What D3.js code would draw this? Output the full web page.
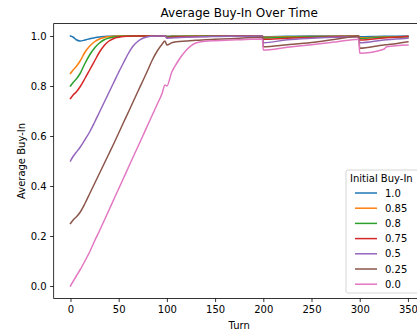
<!DOCTYPE html>
<html>
<head>
<meta charset="utf-8">
<script src="https://cdn.jsdelivr.net/npm/d3@7"></script>
<style>
  html, body { margin: 0; padding: 0; background: #fff; }
  svg { display: block; font-family: "DejaVu Sans", sans-serif; }
</style>
</head>
<body>
<div id="chart"></div>
<script>
// Data
const turns = [0, 3, 6, 10, 15, 20, 25, 30, 35, 40, 45, 50, 55, 60, 65, 70, 75, 80, 85, 90, 95, 98,
  100, 105, 110, 120, 130, 140, 150, 175, 199, 200, 225, 250, 275, 299, 300, 325, 328, 350];

const labels = ['1.0', '0.85', '0.8', '0.75', '0.5', '0.25', '0.0'];
const colors = ['#1f77b4', '#ff7f0e', '#2ca02c', '#d62728', '#9467bd', '#8c564b', '#e377c2'];

const buyIn100 = [1.0, 0.995, 0.985, 0.98, 0.984, 0.989, 0.993, 0.996, 0.998, 0.999, 1.0, 1.0, 1.0, 1.0, 1.0, 1.0, 1.0, 1.0, 1.0, 1.0, 1.0, 1.0,
  0.999, 1.0, 1.0, 1.0, 1.0, 1.0, 1.0, 1.0, 1.0, 0.997, 0.999, 1.0, 1.0, 1.0, 0.997, 0.999, 0.999, 1.0];
const buyIn085 = [0.85, 0.865, 0.878, 0.9, 0.935, 0.96, 0.977, 0.988, 0.994, 0.997, 0.999, 1.0, 1.0, 1.0, 1.0, 1.0, 1.0, 1.0, 1.0, 1.0, 1.0, 1.0,
  0.998, 0.999, 0.999, 1.0, 1.0, 1.0, 1.0, 1.0, 1.0, 0.995, 0.997, 0.998, 0.999, 1.0, 0.993, 0.996, 0.996, 0.998];
const buyIn080 = [0.8, 0.815, 0.828, 0.85, 0.89, 0.925, 0.952, 0.972, 0.985, 0.992, 0.996, 0.998, 0.999, 1.0, 1.0, 1.0, 1.0, 1.0, 1.0, 1.0, 1.0, 1.0,
  0.997, 0.998, 0.998, 0.999, 0.999, 1.0, 1.0, 1.0, 1.0, 0.992, 0.995, 0.997, 0.998, 0.999, 0.99, 0.995, 0.995, 0.997];
const buyIn075 = [0.75, 0.765, 0.776, 0.797, 0.83, 0.865, 0.9, 0.935, 0.962, 0.98, 0.99, 0.995, 0.998, 0.999, 1.0, 1.0, 1.0, 1.0, 1.0, 1.0, 1.0, 1.0,
  0.994, 0.995, 0.996, 0.997, 0.998, 0.998, 0.999, 1.0, 1.0, 0.987, 0.991, 0.994, 0.997, 0.999, 0.984, 0.992, 0.993, 0.998];
const buyIn050 = [0.5, 0.52, 0.535, 0.555, 0.585, 0.617, 0.655, 0.695, 0.735, 0.775, 0.815, 0.855, 0.893, 0.93, 0.96, 0.979, 0.991, 0.997, 0.999, 1.0, 1.0, 1.0,
  0.991, 0.992, 0.993, 0.995, 0.996, 0.997, 0.998, 0.999, 1.0, 0.973, 0.985, 0.991, 0.995, 0.998, 0.973, 0.984, 0.985, 0.991];
const buyIn025 = [0.25, 0.265, 0.276, 0.295, 0.33, 0.37, 0.41, 0.45, 0.49, 0.53, 0.57, 0.612, 0.654, 0.695, 0.737, 0.779, 0.82, 0.862, 0.905, 0.94, 0.967, 0.98,
  0.964, 0.973, 0.977, 0.98, 0.983, 0.985, 0.987, 0.991, 0.995, 0.957, 0.965, 0.974, 0.987, 0.999, 0.951, 0.964, 0.965, 0.977];
const buyIn000 = [0.0, 0.02, 0.04, 0.065, 0.1, 0.137, 0.18, 0.22, 0.262, 0.304, 0.347, 0.389, 0.431, 0.474, 0.516, 0.558, 0.6, 0.643, 0.685, 0.727, 0.77, 0.804,
  0.8, 0.855, 0.89, 0.943, 0.972, 0.979, 0.981, 0.985, 0.988, 0.944, 0.955, 0.965, 0.976, 0.987, 0.931, 0.947, 0.957, 0.964];

const seriesValues = [buyIn100, buyIn085, buyIn080, buyIn075, buyIn050, buyIn025, buyIn000];

const xTicks = [0, 50, 100, 150, 200, 250, 300, 350];
const yTicks = [0.0, 0.2, 0.4, 0.6, 0.8, 1.0];

const width = 417, height = 335;

const svg = d3.select('#chart')
  .append('svg')
  .attr('width', width)
  .attr('height', height);

// axes box (right side is cropped in the reference)
const box = { left: 53.6, right: 424.8, top: 23.5, bottom: 298.5 };

const x = d3.scaleLinear().domain([-17.5, 367.5]).range([box.left, box.right]);
const y = d3.scaleLinear().domain([-0.05, 1.05]).range([box.bottom, box.top]);

svg.append('defs').append('clipPath')
  .attr('id', 'plot-clip')
  .append('rect')
  .attr('x', box.left).attr('y', box.top)
  .attr('width', box.right - box.left).attr('height', box.bottom - box.top);

const line = d3.line()
  .x((d, i) => x(turns[i]))
  .y(d => y(d))
  .curve(d3.curveMonotoneX);

const plot = svg.append('g').attr('clip-path', 'url(#plot-clip)');

seriesValues.forEach((vals, k) => {
  plot.append('path')
    .datum(vals)
    .attr('fill', 'none')
    .attr('stroke', colors[k])
    .attr('stroke-width', 1.5)
    .attr('stroke-linejoin', 'round')
    .attr('stroke-linecap', 'square')
    .attr('d', line);
});

const styleAxis = g => {
  g.selectAll('.tick line').attr('stroke', '#000').attr('stroke-width', 0.8);
  g.selectAll('text').attr('fill', '#000').style('font-size', '10px').style('font-family', '"DejaVu Sans", sans-serif');
};

// X axis
svg.append('g')
  .attr('transform', `translate(0,${box.bottom})`)
  .call(d3.axisBottom(x).tickValues(xTicks).tickSize(3.5).tickPadding(3.5).tickFormat(d3.format('d')))
  .call(g => g.select('.domain').attr('d', `M${box.left},0H${box.right}`).attr('stroke', '#000').attr('stroke-width', 0.8))
  .call(styleAxis);

// Y axis
svg.append('g')
  .attr('transform', `translate(${box.left},0)`)
  .call(d3.axisLeft(y).tickValues(yTicks).tickSize(3.5).tickPadding(3.5).tickFormat(d3.format('.1f')))
  .call(g => g.select('.domain').attr('d', `M0,${box.top}V${box.bottom}`).attr('stroke', '#000').attr('stroke-width', 0.8))
  .call(styleAxis);

// top and right spines
svg.append('line')
  .attr('x1', box.left).attr('x2', box.right).attr('y1', box.top).attr('y2', box.top)
  .attr('stroke', '#000').attr('stroke-width', 0.8);
svg.append('line')
  .attr('x1', box.right).attr('x2', box.right).attr('y1', box.top).attr('y2', box.bottom)
  .attr('stroke', '#000').attr('stroke-width', 0.8);

// Title and axis labels
svg.append('text')
  .attr('x', (box.left + box.right) / 2).attr('y', 17)
  .attr('text-anchor', 'middle')
  .style('font-size', '12px')
  .text('Average Buy-In Over Time');

svg.append('text')
  .attr('x', (box.left + box.right) / 2).attr('y', 329)
  .attr('text-anchor', 'middle')
  .style('font-size', '10px')
  .text('Turn');

svg.append('text')
  .attr('transform', `translate(25,${(box.top + box.bottom) / 2}) rotate(-90)`)
  .attr('text-anchor', 'middle')
  .style('font-size', '10px')
  .text('Average Buy-In');

// Legend
const legend = svg.append('g').attr('transform', 'translate(346,170)');
legend.append('rect')
  .attr('x', 0).attr('y', 0)
  .attr('width', 74).attr('height', 123)
  .attr('rx', 2)
  .attr('fill', '#fff').attr('fill-opacity', 0.8)
  .attr('stroke', '#cccccc').attr('stroke-width', 0.8);

legend.append('text')
  .attr('x', 4).attr('y', 11.5)
  .style('font-size', '10px')
  .text('Initial Buy-In');

labels.forEach((lab, i) => {
  const cy = 23 + i * 15.2;
  legend.append('line')
    .attr('x1', 9).attr('x2', 31)
    .attr('y1', cy).attr('y2', cy)
    .attr('stroke', colors[i]).attr('stroke-width', 1.5);
  legend.append('text')
    .attr('x', 39).attr('y', cy + 3.6)
    .style('font-size', '10px')
    .text(lab);
});
</script>
</body>
</html>
